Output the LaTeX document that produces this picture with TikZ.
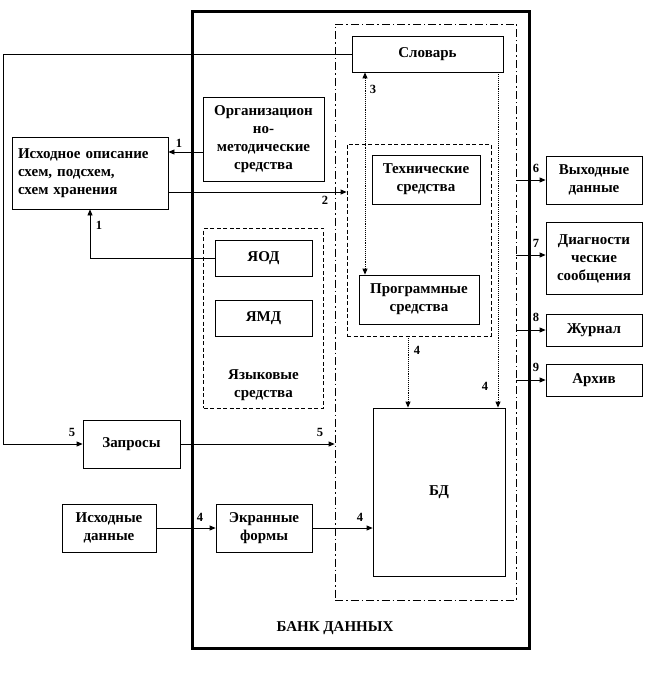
\documentclass[tikz,border=0pt]{standalone}
\usepackage{fontspec}
\setmainfont{Liberation Serif}
\usetikzlibrary{arrows.meta}
\begin{document}
\begin{tikzpicture}[x=1pt,y=-1pt,
  txt/.style={font=\bfseries\fontsize{15}{18}\selectfont},
  box/.style={draw, line width=0.8pt, inner sep=0pt, align=center, txt},
  dbox/.style={draw, line width=0.8pt, dash pattern=on 4pt off 2.5pt, inner sep=0pt},
  ddbox/.style={draw, line width=0.8pt, dash pattern=on 8pt off 3pt on 1.5pt off 3pt, inner sep=0pt},
  num/.style={font=\bfseries\fontsize{12.5}{13}\selectfont, inner sep=0pt},
  arr/.style={line width=0.8pt, -{Triangle[length=6pt,width=5pt]}},
  dot/.style={line width=0.9pt, densely dotted}
]
\useasboundingbox (0,0) rectangle (648,674);
% containers
\node[draw, line width=3pt, minimum width=337pt, minimum height=636pt, inner sep=0pt] (bank) at (360.5,330) {};
\node[ddbox, minimum width=181pt, minimum height=576pt] (dd) at (425.5,312) {};
\node[dbox, minimum width=144pt, minimum height=192pt] (tech) at (419,240) {};
\node[dbox, minimum width=120pt, minimum height=180pt] (lang) at (263.5,318) {};
% boxes
\node[box, minimum width=151pt, minimum height=36pt] (slovar) at (427.5,54) {Словарь};
\node[box, minimum width=121pt, minimum height=84pt] (org) at (263.5,139) {Организацион\\но-\\методические\\средства};
\node[box, minimum width=156pt, minimum height=72pt, align=left, text width=144pt] (isx) at (90,173) {Исходное описание\\схем, подсхем,\\схем хранения};
\node[box, minimum width=108pt, minimum height=49pt] (techin) at (426,179.5) {Технические\\средства};
\node[box, minimum width=120pt, minimum height=49pt] (prog) at (419,299.5) {Программные\\средства};
\node[box, minimum width=97pt, minimum height=36pt] (yod) at (263.5,258) {ЯОД};
\node[box, minimum width=97pt, minimum height=36pt] (ymd) at (263.5,318) {ЯМД};
\node[txt, align=center] (langt) at (263.5,385) {Языковые\\средства};
\node[box, minimum width=97pt, minimum height=48pt] (zap) at (131.5,444) {Запросы};
\node[box, minimum width=94pt, minimum height=48pt] (isd) at (109,528) {Исходные\\данные};
\node[box, minimum width=96pt, minimum height=48pt] (ekr) at (264,528) {Экранные\\формы};
\node[box, minimum width=132pt, minimum height=168pt] (bd) at (439,492) {БД};
\node[box, minimum width=96pt, minimum height=48pt] (vyx) at (594,180) {Выходные\\данные};
\node[box, minimum width=96pt, minimum height=72pt] (diag) at (594,258.5) {Диагности\\ческие\\сообщения};
\node[box, minimum width=96pt, minimum height=32pt] (zhur) at (594,330) {Журнал};
\node[box, minimum width=96pt, minimum height=32pt] (arx) at (594,380) {Архив};
\node[txt] (banktitle) at (335,628) {БАНК ДАННЫХ};
% helper coordinates
\coordinate (lft) at (3,0);
\coordinate (c3) at (365,0);
\coordinate (c4a) at (408,0);
\coordinate (c4b) at (498,0);
% connectors
\draw[arr] ([yshift=-13pt]org.west) -- ([yshift=-13pt]org.west -| isx.east);
\draw[arr] ([yshift=-19pt]isx.east) -- ([yshift=-19pt]isx.east -| tech.west);
\draw[arr] (slovar.west) -- (slovar.west -| lft) |- (zap.west);
\draw[arr] (yod.west) -| (isx.south);
\draw[line width=0.9pt, densely dotted, {Triangle[length=6pt,width=5pt]}-{Triangle[length=6pt,width=5pt]}] (c3 |- slovar.south) -- (c3 |- prog.north);
\draw[dot, -{Triangle[length=6pt,width=5pt]}] (c4a |- tech.south) -- (c4a |- bd.north);
\draw[dot, -{Triangle[length=6pt,width=5pt]}] (c4b |- slovar.south) -- (c4b |- bd.north);
\draw[arr] (zap.east) -- (zap.east -| dd.west);
\draw[arr] (isd.east) -- (ekr.west);
\draw[arr] (ekr.east) -- (ekr.east -| bd.west);
\draw[arr] (vyx.west -| dd.east) -- (vyx.west);
\draw[arr] ([yshift=3.5pt]diag.west -| dd.east) -- ([yshift=3.5pt]diag.west);
\draw[arr] (zhur.west -| dd.east) -- (zhur.west);
\draw[arr] (arx.west -| dd.east) -- (arx.west);
% labels
\node[num] (l1a) at (179,143) {1};
\node[num] (l1b) at (99,225) {1};
\node[num] (l2) at (325,200) {2};
\node[num] (l3) at (373,89) {3};
\node[num] (l4a) at (417,350) {4};
\node[num] (l4b) at (485,386) {4};
\node[num] (l5a) at (72,432) {5};
\node[num] (l5b) at (320,432) {5};
\node[num] (l4c) at (200,517) {4};
\node[num] (l4d) at (360,517) {4};
\node[num] (l6) at (536,168) {6};
\node[num] (l7) at (536,243) {7};
\node[num] (l8) at (536,317) {8};
\node[num] (l9) at (536,367) {9};
\end{tikzpicture}
\end{document}
